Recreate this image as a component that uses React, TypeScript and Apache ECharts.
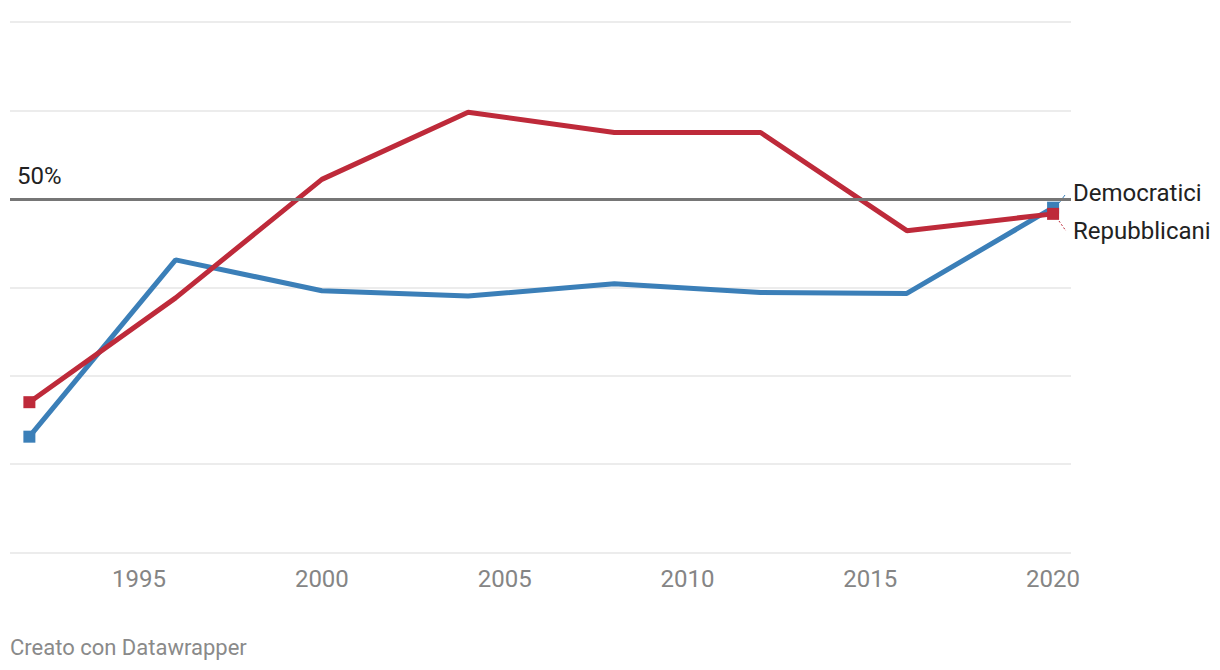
import React, { useEffect, useRef } from "react";
import * as echarts from "echarts";

const years = [1992, 1996, 2000, 2004, 2008, 2012, 2016, 2020];
const democratici = [23.1, 43.1, 39.6, 39.0, 40.4, 39.4, 39.3, 49.0];
const repubblicani = [27.0, 38.8, 52.2, 59.8, 57.5, 57.5, 46.4, 48.3];
const xTicks = [1995, 2000, 2005, 2010, 2015, 2020];
const refValue = 50;

const BLUE = "#3b7fb8";
const RED = "#be2a3a";

function buildData(vals: number[]) {
  return years.map((y, i) => ({
    value: [y, vals[i]],
    symbol: i === 0 || i === years.length - 1 ? "rect" : "none",
  }));
}

export default function App() {
  const ref = useRef<HTMLDivElement>(null);
  useEffect(() => {
    const chart = echarts.init(ref.current!, null, { renderer: "svg" });
    chart.setOption({
      animation: false,
      textStyle: { fontFamily: "Roboto" },
      grid: { left: 10, right: 149, top: 22, bottom: 117.5 },
      xAxis: {
        type: "value",
        min: 1991.47,
        max: 2020.49,
        axisLine: { show: false },
        axisTick: { show: false },
        splitLine: { show: false },
        axisLabel: {
          customValues: xTicks,
          color: "#858585",
          fontSize: 24,
          margin: 14,
          formatter: (v: number) => String(v),
        },
      },
      yAxis: {
        type: "value",
        min: 10,
        max: 70,
        interval: 10,
        axisLabel: { show: false },
        axisLine: { show: false },
        axisTick: { show: false },
        splitLine: { lineStyle: { color: "#e6e6e6", width: 1.5 } },
      },
      series: [
        {
          type: "line",
          data: [],
          z: 1,
          markLine: {
            silent: true,
            symbol: "none",
            lineStyle: { color: "#767676", width: 3, type: "solid" },
            label: {
              show: true,
              position: "insideStartTop",
              formatter: "50%",
              color: "#222",
              fontSize: 24,
              fontFamily: "Roboto",
              distance: [7, 11],
            },
            data: [{ yAxis: refValue }],
          },
        },
        {
          name: "Democratici",
          type: "line",
          z: 3,
          data: buildData(democratici),
          symbol: "rect",
          symbolSize: 12,
          showSymbol: true,
          itemStyle: { color: BLUE },
          lineStyle: { color: BLUE, width: 5 },
          endLabel: {
            show: true,
            formatter: "Democratici",
            color: "#222",
            fontSize: 24,
            fontFamily: "Roboto",
            offset: [12, -15],
          },
        },
        {
          name: "Repubblicani",
          type: "line",
          z: 4,
          data: buildData(repubblicani),
          symbol: "rect",
          symbolSize: 12,
          showSymbol: true,
          itemStyle: { color: RED },
          lineStyle: { color: RED, width: 5 },
          endLabel: {
            show: true,
            formatter: "Repubblicani",
            color: "#222",
            fontSize: 24,
            fontFamily: "Roboto",
            offset: [12, 17],
          },
        },
      ],
      graphic: [
        {
          type: "text",
          left: 10,
          top: 636,
          style: {
            text: "Creato con Datawrapper",
            fill: "#8a8a8a",
            fontSize: 22,
            fontFamily: "Roboto",
          },
        },
        {
          type: "line",
          shape: { x1: 1059, y1: 203, x2: 1065, y2: 195 },
          style: { stroke: BLUE, lineWidth: 1 },
        },
        {
          type: "line",
          shape: { x1: 1059, y1: 221, x2: 1066, y2: 231 },
          style: { stroke: RED, lineWidth: 1, lineDash: [2, 2] },
        },
      ],
    });
    return () => chart.dispose();
  }, []);
  return (
    <div
      ref={ref}
      style={{ position: "fixed", left: 0, top: 0, width: 1220, height: 670, background: "#fff" }}
    />
  );
}
